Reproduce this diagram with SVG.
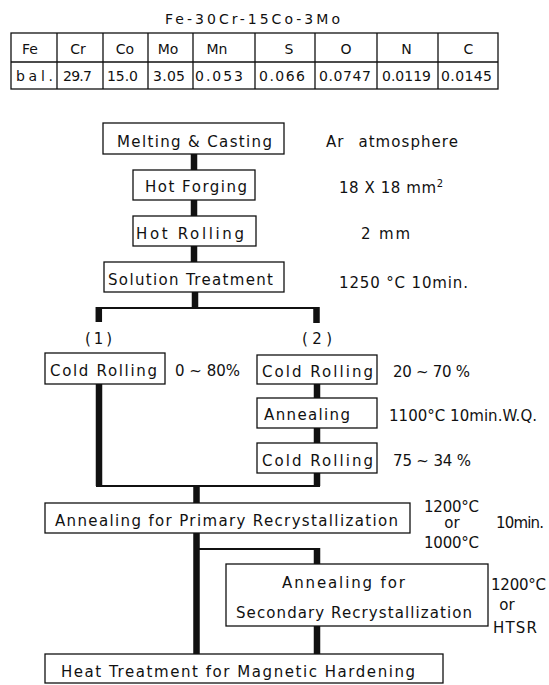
<svg xmlns="http://www.w3.org/2000/svg" width="549" height="685" viewBox="0 0 549 685">
<style>
text{font-family:"DejaVu Sans","Liberation Sans",sans-serif;font-size:15px;fill:#111}
.t{font-size:14px}
.box{fill:#fff;stroke:#111;stroke-width:1.3}
.thick{stroke:#111;stroke-width:6.5;fill:none}
.thin{stroke:#111;stroke-width:1.8;fill:none}
.grid{stroke:#111;stroke-width:1.3;fill:none}
</style>
<rect width="549" height="685" fill="#fff"/>
<g id="table">
<text class="t" x="165" y="24" textLength="175" lengthAdjust="spacing">Fe-30Cr-15Co-3Mo</text>
<rect class="grid" x="11" y="33" width="487" height="56"/>
<path class="grid" d="M11 62H498M57 33V89M103 33V89M148 33V89M193 33V89M255 33V89M315 33V89M377 33V89M438 33V89"/>
<g class="t" text-anchor="middle">
<text class="t" x="30" y="53.5">Fe</text>
<text class="t" x="78" y="53.5">Cr</text>
<text class="t" x="125" y="53.5">Co</text>
<text class="t" x="168" y="53.5">Mo</text>
<text class="t" x="217" y="53.5">Mn</text>
<text class="t" x="289" y="53.5">S</text>
<text class="t" x="346" y="53.5">O</text>
<text class="t" x="406.5" y="53.5">N</text>
<text class="t" x="468.5" y="53.5">C</text>
</g>
<text class="t" x="16" y="81" textLength="37" lengthAdjust="spacing">bal.</text>
<text class="t" x="63" y="81" textLength="29" lengthAdjust="spacing">29.7</text>
<text class="t" x="107" y="81" textLength="31" lengthAdjust="spacing">15.0</text>
<text class="t" x="153" y="81" textLength="32" lengthAdjust="spacing">3.05</text>
<text class="t" x="195" y="81" textLength="48" lengthAdjust="spacing">0.053</text>
<text class="t" x="259" y="81" textLength="46" lengthAdjust="spacing">0.066</text>
<text class="t" x="319" y="81" textLength="52" lengthAdjust="spacing">0.0747</text>
<text class="t" x="382" y="81" textLength="49" lengthAdjust="spacing">0.0119</text>
<text class="t" x="441" y="81" textLength="51" lengthAdjust="spacing">0.0145</text>
</g>
<g id="connectors">
<path class="thick" d="M194 154V170M194 200V216M194 246V262M195 292V308"/>
<path class="thin" d="M98 308H317"/>
<path class="thick" d="M98.8 307V322M316.5 307V323"/>
<path class="thick" d="M317 384V398M317 428V443"/>
<path class="thick" d="M99 384V486M317 473V486"/>
<path class="thin" d="M96 486H320"/>
<path class="thick" d="M196.5 485V503M196.5 533V654"/>
<path class="thin" d="M196 549H317"/>
<path class="thick" d="M317 548V564M317 626V654"/>
</g>
<g id="melting">
<rect class="box" x="103" y="123" width="181" height="31"/>
<text x="117" y="147" textLength="155" lengthAdjust="spacing">Melting &amp; Casting</text>
<text x="326" y="146.5" textLength="132" lengthAdjust="spacing" word-spacing="8">Ar atmosphere</text>
</g>
<g id="hot-forging">
<rect class="box" x="133" y="170" width="122" height="30"/>
<text x="145" y="191.5" textLength="102" lengthAdjust="spacing">Hot Forging</text>
<text x="339" y="192.5" textLength="104" lengthAdjust="spacing">18 X 18 mm<tspan font-size="10" dy="-6">2</tspan></text>
</g>
<g id="hot-rolling">
<rect class="box" x="133" y="216" width="123" height="30"/>
<text x="136" y="239" textLength="108" lengthAdjust="spacing">Hot Rolling</text>
<text x="361" y="239" textLength="49" lengthAdjust="spacing">2 mm</text>
</g>
<g id="solution">
<rect class="box" x="104" y="262" width="180" height="30"/>
<text x="108" y="285" textLength="165" lengthAdjust="spacing">Solution Treatment</text>
<text x="339" y="287.5" textLength="129" lengthAdjust="spacing">1250 °C 10min.</text>
</g>
<g id="route1">
<text x="85" y="344" textLength="27" lengthAdjust="spacing">(1)</text>
</g>
<g id="cold-rolling-1">
<rect class="box" x="45" y="353" width="120" height="31"/>
<text x="50" y="375.5" textLength="107" lengthAdjust="spacing">Cold Rolling</text>
<text x="175" y="376" textLength="65" lengthAdjust="spacing">0 ~ 80%</text>
</g>
<g id="route2">
<text x="302" y="344" textLength="30" lengthAdjust="spacing">(2)</text>
</g>
<g id="cold-rolling-2">
<rect class="box" x="257" y="355" width="120" height="29"/>
<text x="262" y="376.5" textLength="111" lengthAdjust="spacing">Cold Rolling</text>
<text x="393" y="376.5" textLength="77" lengthAdjust="spacing">20 ~ 70 %</text>
</g>
<g id="annealing">
<rect class="box" x="257" y="398" width="120" height="30"/>
<text x="264" y="420" textLength="86" lengthAdjust="spacing">Annealing</text>
<text x="389" y="420.5" textLength="148" lengthAdjust="spacing">1100°C 10min.W.Q.</text>
</g>
<g id="cold-rolling-3">
<rect class="box" x="257" y="443" width="120" height="30"/>
<text x="262" y="465.5" textLength="111" lengthAdjust="spacing">Cold Rolling</text>
<text x="393" y="465.5" textLength="78" lengthAdjust="spacing">75 ~ 34 %</text>
</g>
<g id="primary">
<rect class="box" x="45" y="503" width="365" height="30"/>
<text x="55" y="526" textLength="343" lengthAdjust="spacing">Annealing for Primary Recrystallization</text>
<text x="424" y="511.5" textLength="55" lengthAdjust="spacing">1200°C</text>
<text x="452" y="528" text-anchor="middle">or</text>
<text x="424" y="548" textLength="55" lengthAdjust="spacing">1000°C</text>
<text x="496" y="528" textLength="48" lengthAdjust="spacing">10min.</text>
</g>
<g id="secondary">
<rect class="box" x="226" y="564" width="262" height="62"/>
<text x="282" y="587.5" textLength="123" lengthAdjust="spacing">Annealing for</text>
<text x="236" y="617.5" textLength="236" lengthAdjust="spacing">Secondary Recrystallization</text>
<text x="491" y="590" textLength="55" lengthAdjust="spacing">1200°C</text>
<text x="507" y="610" text-anchor="middle">or</text>
<text x="493" y="633" textLength="44" lengthAdjust="spacing">HTSR</text>
</g>
<g id="heat-treatment">
<rect class="box" x="45" y="654" width="398" height="29"/>
<text x="61" y="676.5" textLength="354" lengthAdjust="spacing">Heat Treatment for Magnetic Hardening</text>
</g>
</svg>
